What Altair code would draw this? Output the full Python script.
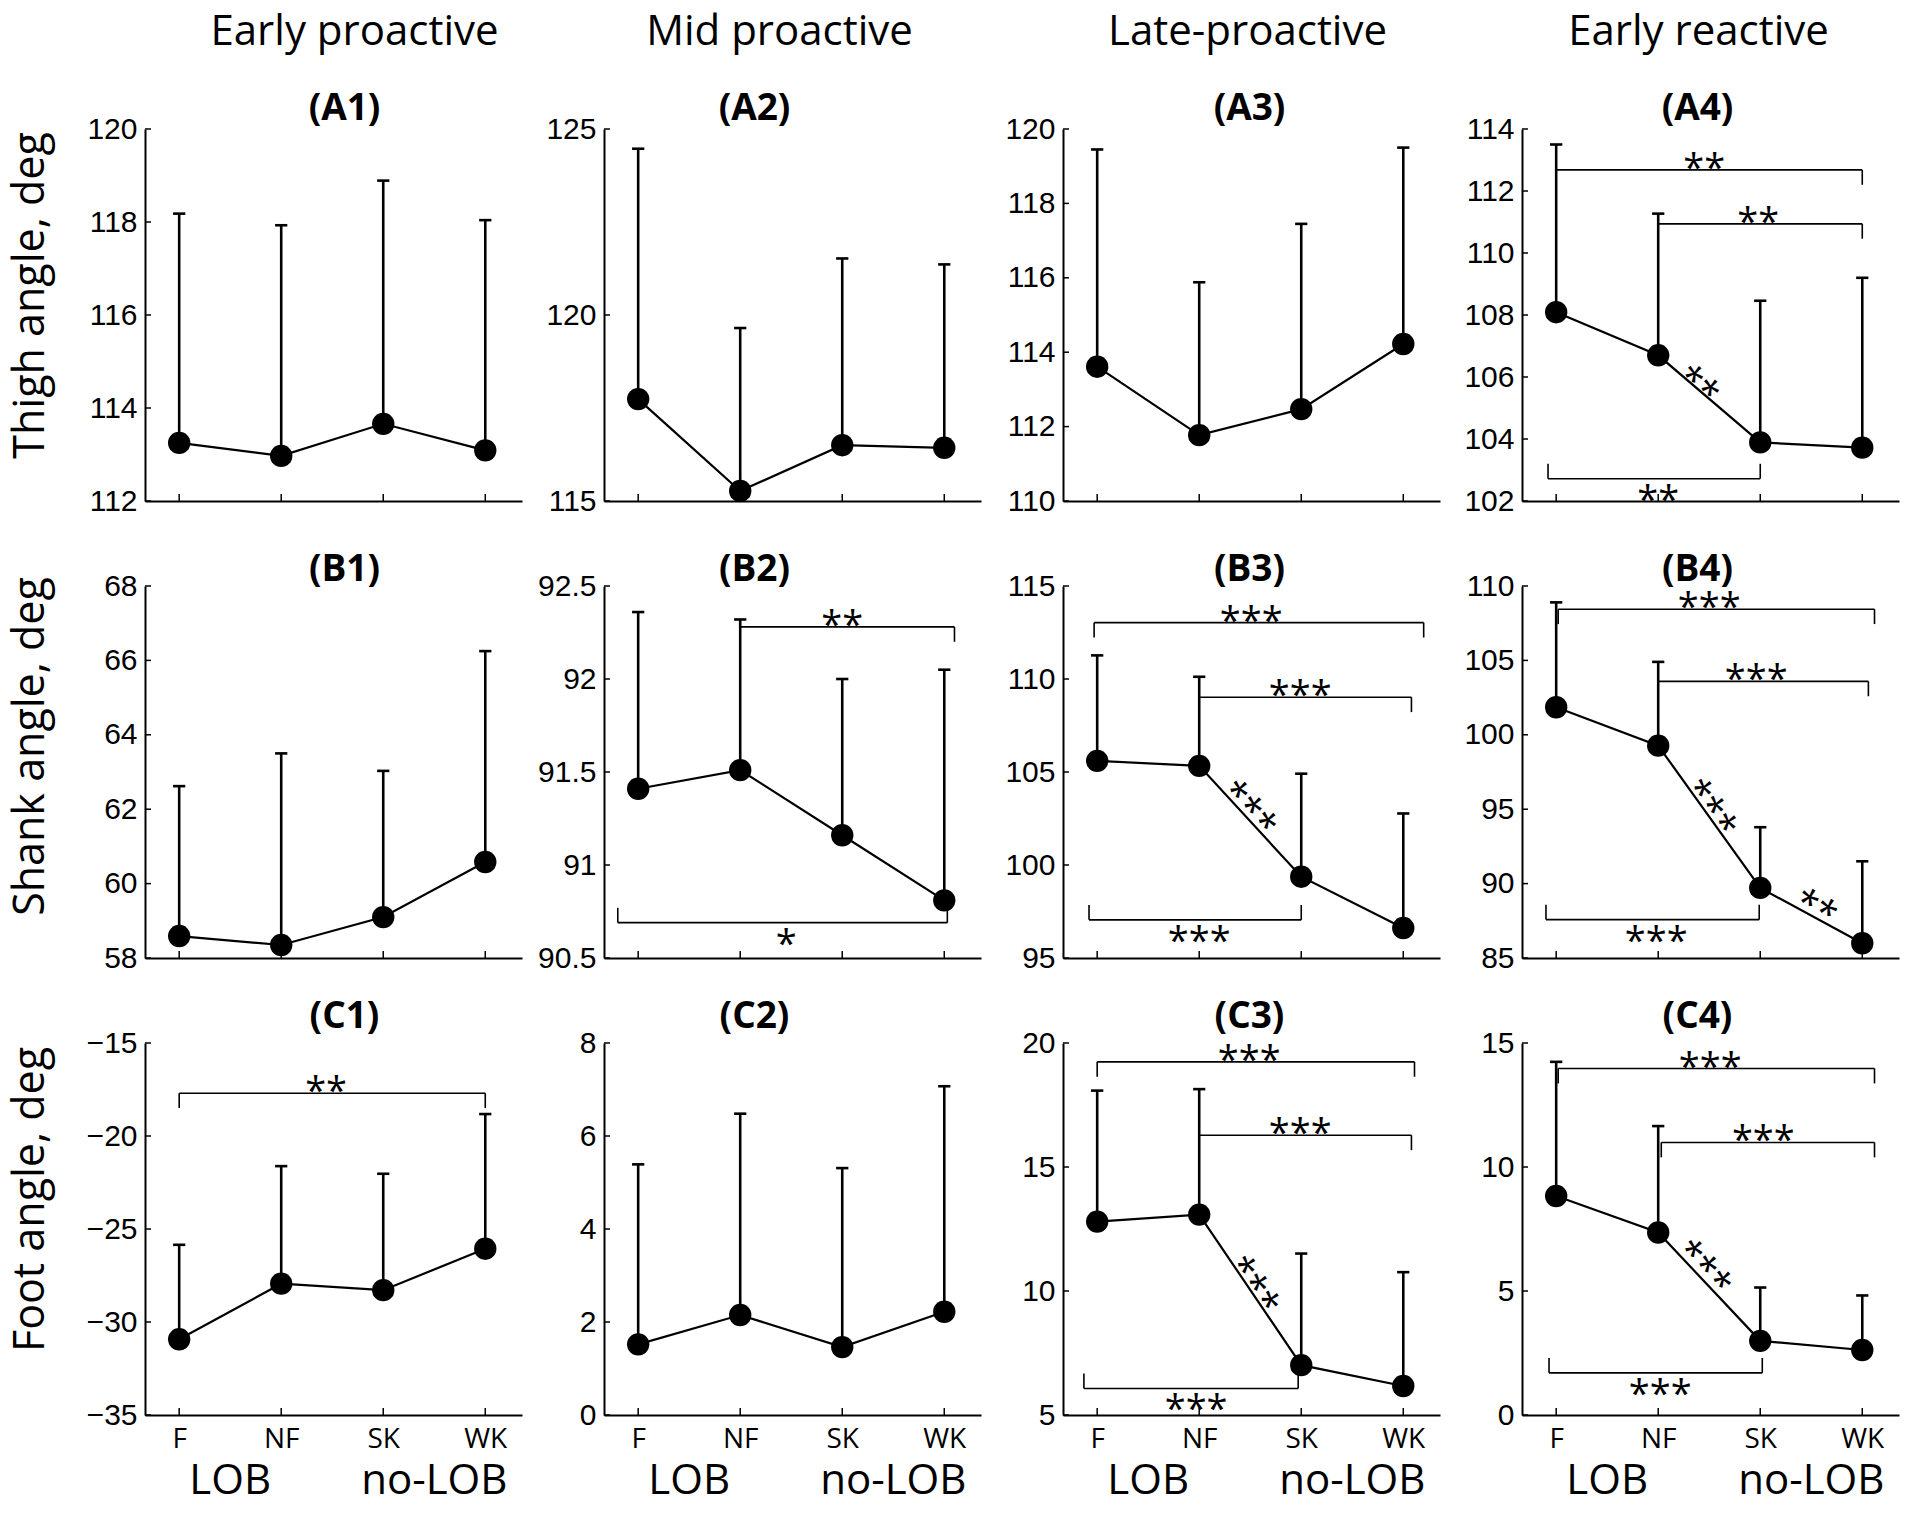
import math
import altair as alt
import pandas as pd

# ---------------- data ----------------
categories = ["F", "NF", "SK", "WK"]
positions = [1, 2, 3, 4]
group_labels = ["LOB", "no-LOB"]
group_positions = [1.5, 3.5]
col_titles = ["Early proactive", "Mid proactive", "Late-proactive", "Early reactive"]
row_titles = ["Thigh angle, deg", "Shank angle, deg", "Foot angle, deg"]
row_letters = ["A", "B", "C"]

# means (marker) and mean+SD (top of error bar)
mean_A1 = [113.25, 112.97, 113.66, 113.09]
top_A1 = [118.18, 117.93, 118.89, 118.04]
mean_A2 = [117.74, 115.27, 116.50, 116.43]
top_A2 = [124.47, 119.65, 121.52, 121.36]
mean_A3 = [113.61, 111.77, 112.47, 114.22]
top_A3 = [119.45, 115.88, 117.45, 119.50]
mean_A4 = [108.09, 106.70, 103.89, 103.72]
top_A4 = [113.50, 111.27, 108.46, 109.20]

mean_B1 = [58.59, 58.35, 59.10, 60.58]
top_B1 = [62.62, 63.50, 63.03, 66.25]
mean_B2 = [91.41, 91.51, 91.16, 90.81]
top_B2 = [92.36, 92.32, 92.00, 92.05]
mean_B3 = [105.60, 105.33, 99.37, 96.61]
top_B3 = [111.27, 110.12, 104.91, 102.77]
mean_B4 = [101.85, 99.27, 89.71, 85.99]
top_B4 = [108.90, 104.90, 93.79, 91.50]

mean_C1 = [-30.93, -27.94, -28.29, -26.06]
top_C1 = [-25.85, -21.62, -22.03, -18.82]
mean_C2 = [1.52, 2.15, 1.46, 2.22]
top_C2 = [5.39, 6.48, 5.31, 7.07]
mean_C3 = [12.80, 13.08, 7.01, 6.17]
top_C3 = [18.08, 18.14, 11.51, 10.76]
mean_C4 = [8.83, 7.36, 2.99, 2.62]
top_C4 = [14.24, 11.65, 5.14, 4.82]

# y-axis tick values (first and last give the axis range)
yt_A1 = [112, 114, 116, 118, 120]
yt_A2 = [115, 120, 125]
yt_A3 = [110, 112, 114, 116, 118, 120]
yt_A4 = [102, 104, 106, 108, 110, 112, 114]
yt_B1 = [58, 60, 62, 64, 66, 68]
yt_B2 = [90.5, 91, 91.5, 92, 92.5]
yt_B3 = [95, 100, 105, 110, 115]
yt_B4 = [85, 90, 95, 100, 105, 110]
yt_C1 = [-35, -30, -25, -20, -15]
yt_C2 = [0, 2, 4, 6, 8]
yt_C3 = [5, 10, 15, 20]
yt_C4 = [0, 5, 10, 15]

# significance brackets
br_panel = ["A4", "A4", "A4", "B2", "B2", "B3", "B3", "B3", "B4", "B4", "B4",
            "C1", "C3", "C3", "C3", "C4", "C4", "C4"]
br_x1 = [1.0, 2.0, 0.92, 2.0, 0.8, 0.97, 2.0, 0.92, 1.02, 2.0, 0.9,
         1.0, 1.0, 2.0, 0.87, 1.02, 2.03, 0.93]
br_x2 = [4.0, 4.0, 3.0, 4.1, 4.03, 4.2, 4.08, 3.0, 4.12, 4.06, 2.99,
         4.0, 4.11, 4.08, 2.97, 4.12, 4.12, 3.02]
br_y = [112.68, 110.94, 102.72, 92.28, 90.69, 113.03, 109.02, 97.05, 108.44, 103.59, 87.58,
        -17.7, 19.24, 16.28, 6.07, 13.97, 10.99, 1.7]
br_kind = ["top", "top", "bottom", "top", "bottom", "top", "top", "bottom", "top", "top", "bottom",
           "top", "top", "top", "bottom", "top", "top", "bottom"]
br_label = ["**", "**", "**", "**", "*", "***", "***", "***", "***", "***", "***",
            "**", "***", "***", "***", "***", "***", "***"]
br_label_x = [2.45, 2.98, 2.0, 3.0, 2.45, 2.51, 2.99, 2.0, 2.5, 2.96, 1.98,
              2.44, 2.49, 2.99, 1.97, 2.51, 3.03, 2.02]

# asterisks written along a line segment
dg_panel = ["A4", "B3", "B4", "B4", "C3", "C4"]
dg_label = ["**", "***", "***", "**", "***", "***"]
dg_x = [2.44, 2.54, 2.57, 3.58, 2.59, 2.5]
dg_y = [105.91, 103.28, 95.34, 88.79, 10.38, 6.13]
dg_seg = [1, 1, 1, 2, 1, 1]

# ---------------- layout / style ----------------
W, H = 377, 372
X_DOMAIN = [0.665, 4.36]
COL_SPACING, ROW_SPACING = 82, 85
TXT = "Open Sans"
NUM = "Liberation Sans"
STAR = 38
row_title_y = [166, 160, 156]
label_off = [9, 5, 15]
label_dx = [11, -38, -2, -13]
header_dx = [21, -13, -4, -12]

means = {"A1": mean_A1, "A2": mean_A2, "A3": mean_A3, "A4": mean_A4,
         "B1": mean_B1, "B2": mean_B2, "B3": mean_B3, "B4": mean_B4,
         "C1": mean_C1, "C2": mean_C2, "C3": mean_C3, "C4": mean_C4}
tops = {"A1": top_A1, "A2": top_A2, "A3": top_A3, "A4": top_A4,
        "B1": top_B1, "B2": top_B2, "B3": top_B3, "B4": top_B4,
        "C1": top_C1, "C2": top_C2, "C3": top_C3, "C4": top_C4}
yticks = {"A1": yt_A1, "A2": yt_A2, "A3": yt_A3, "A4": yt_A4,
          "B1": yt_B1, "B2": yt_B2, "B3": yt_B3, "B4": yt_B4,
          "C1": yt_C1, "C2": yt_C2, "C3": yt_C3, "C4": yt_C4}

LABEL_EXPR = "[" + ",".join("'%s'" % c for c in categories) + "][datum.value - 1]"


def panel(r, c):
    pid = "%s%d" % (row_letters[r], c + 1)
    ticks = yticks[pid]
    ymin, ymax = min(ticks), max(ticks)
    xs = alt.Scale(domain=X_DOMAIN, nice=False, zero=False)
    ys = alt.Scale(domain=[ymin, ymax], nice=False, zero=False)

    def X(f):
        return alt.X(f + ":Q", scale=xs)

    def Y(f):
        return alt.Y(f + ":Q", scale=ys)

    xkw = dict(values=positions, ticks=False, grid=False, domain=True,
               domainColor="black", domainWidth=2, title="", labelFlush=False)
    if r == 2:
        x_axis = alt.Axis(labels=True, labelExpr=LABEL_EXPR, labelFont=TXT, labelFontSize=28,
                          labelColor="black", labelPadding=10, labelOverlap=False, **xkw)
    else:
        x_axis = alt.Axis(labels=False, **xkw)

    ykw = dict(values=ticks, format="~g", ticks=False, grid=False, domain=True,
               domainColor="black", domainWidth=2, labelFont=NUM, labelFontSize=30,
               labelColor="black", labelPadding=8, labelOverlap=False, labelFlush=False)
    if c == 0:
        y_axis = alt.Axis(title=row_titles[r], titleFont=TXT, titleFontSize=43,
                          titleFontWeight="normal", titleColor="black", titleAngle=270,
                          titleX=-102, titleY=row_title_y[r], titleAlign="center",
                          titleBaseline="alphabetic", **ykw)
    else:
        y_axis = alt.Axis(title="", **ykw)

    df = pd.DataFrame({"cat": categories, "pos": positions,
                       "mean": means[pid], "top": tops[pid]})
    base = alt.Chart(df)

    line = base.mark_line(color="black", strokeWidth=2.2).encode(
        x=alt.X("pos:Q", scale=xs, axis=x_axis),
        y=alt.Y("mean:Q", scale=ys, axis=y_axis))
    err = base.mark_rule(color="black", strokeWidth=2.6).encode(
        x=X("pos"), y=Y("mean"), y2="top:Q")
    caps = base.transform_calculate(xl="datum.pos - 0.06", xr="datum.pos + 0.06").mark_rule(
        color="black", strokeWidth=2.6).encode(x=X("xl"), x2="xr:Q", y=Y("top"))
    pts = base.mark_circle(size=500, color="black", opacity=1).encode(x=X("pos"), y=Y("mean"))

    ytk = alt.Chart(pd.DataFrame({"v": ticks})).mark_rule(color="black", strokeWidth=1.5).encode(
        y=Y("v"), x=alt.value(0), x2=alt.value(6))
    xtk = alt.Chart(pd.DataFrame({"pos": positions})).mark_rule(color="black", strokeWidth=1.5).encode(
        x=X("pos"), y=alt.value(H), y2=alt.value(H - 7))

    layers = [line, err, caps, pts, ytk, xtk]

    idx = [i for i, p in enumerate(br_panel) if p == pid]
    if idx:
        drop = 0.04 * (ymax - ymin)
        bdf = pd.DataFrame({
            "x1": [br_x1[i] for i in idx],
            "x2": [br_x2[i] for i in idx],
            "y": [br_y[i] for i in idx],
            "kind": [br_kind[i] for i in idx],
            "label": [br_label[i] for i in idx],
            "lx": [br_label_x[i] for i in idx],
        })
        bdf["ye"] = [y - drop if k == "top" else y + drop for y, k in zip(bdf["y"], bdf["kind"])]
        bb = alt.Chart(bdf)
        layers.append(bb.mark_rule(color="black", strokeWidth=1.6).encode(
            x=X("x1"), x2="x2:Q", y=Y("y")))
        layers.append(bb.mark_rule(color="black", strokeWidth=1.6).encode(
            x=X("x1"), y=Y("y"), y2="ye:Q"))
        layers.append(bb.mark_rule(color="black", strokeWidth=1.6).encode(
            x=X("x2"), y=Y("y"), y2="ye:Q"))
        layers.append(bb.transform_filter("datum.kind == 'top'").mark_text(
            font=TXT, fontSize=STAR, color="black", align="center", baseline="alphabetic", dy=11).encode(
            x=X("lx"), y=Y("y"), text="label:N"))
        layers.append(bb.transform_filter("datum.kind == 'bottom'").mark_text(
            font=TXT, fontSize=STAR, color="black", align="center", baseline="alphabetic", dy=34).encode(
            x=X("lx"), y=Y("y"), text="label:N"))

    px_x = W / (X_DOMAIN[1] - X_DOMAIN[0])
    px_y = H / (ymax - ymin)
    m = means[pid]
    for i, p in enumerate(dg_panel):
        if p != pid:
            continue
        s = dg_seg[i]
        ang = math.degrees(math.atan2(-(m[s + 1] - m[s]) * px_y, px_x))
        if ang < 0:
            ang += 360
        ddf = pd.DataFrame({"x": [dg_x[i]], "y": [dg_y[i]], "t": [dg_label[i]]})
        layers.append(alt.Chart(ddf).mark_text(
            font=TXT, fontSize=STAR, color="black", align="center", baseline="alphabetic",
            angle=round(ang, 1), dy=21).encode(x=X("x"), y=Y("y"), text="t:N"))

    # panel label "(A1)" etc.
    ldf = pd.DataFrame({"t": ["(%s)" % pid]})
    layers.append(alt.Chart(ldf).mark_text(
        font=TXT, fontSize=37, fontWeight="bold", color="black", align="center",
        baseline="alphabetic").encode(
        x=alt.value(W / 2 + label_dx[c]), y=alt.value(-label_off[r]), text="t:N"))

    if r == 0:
        hdf = pd.DataFrame({"t": [col_titles[c]]})
        layers.append(alt.Chart(hdf).mark_text(
            font=TXT, fontSize=42, color="black", align="center", baseline="alphabetic").encode(
            x=alt.value(W / 2 + header_dx[c]), y=alt.value(-84), text="t:N"))

    if r == 2:
        gdf = pd.DataFrame({"g": group_labels, "x": group_positions})
        layers.append(alt.Chart(gdf).mark_text(
            font=TXT, fontSize=42, color="black", align="center", baseline="alphabetic").encode(
            x=X("x"), y=alt.value(H + 79), text="g:N"))

    return alt.layer(*layers).properties(width=W, height=H)


panels = [panel(r, c) for r in range(3) for c in range(4)]

chart = alt.concat(
    *panels, columns=4, spacing={"row": ROW_SPACING, "column": COL_SPACING}, bounds="flush"
).properties(
    padding={"left": 0, "top": 2, "right": 5, "bottom": 5}
).configure_view(stroke="transparent")

chart.save("out.html", embed_options={"renderer": "svg", "actions": False})
